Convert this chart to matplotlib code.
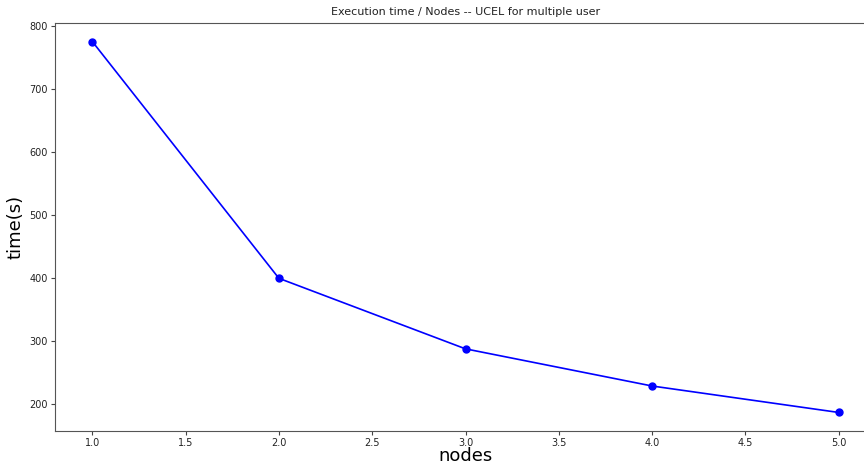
import matplotlib
matplotlib.use("Agg")
import matplotlib.pyplot as plt

nodes = [1.0, 2.0, 3.0, 4.0, 5.0]
times = [775, 399, 287, 228, 186]

fig = plt.figure(figsize=(8.64, 4.63), dpi=100)
ax = fig.add_axes([55/864, 1-431/463, (876-55)/864, (431-23)/463])
ax.plot(nodes, times, color='blue', marker='o', markersize=5, linewidth=1.2)
ax.set_title("Execution time / Nodes -- UCEL for multiple user", fontsize=8, color='#222222')
ax.set_xlabel("nodes", fontsize=13, labelpad=-1)
ax.set_ylabel("time(s)", fontsize=13)
ax.tick_params(labelsize=7, length=3, pad=2, colors='#444444', labelcolor='#222222')
for s in ax.spines.values():
    s.set_color('#555555')
ax.spines['right'].set_visible(False)
fig.savefig("out.png", dpi=100)
